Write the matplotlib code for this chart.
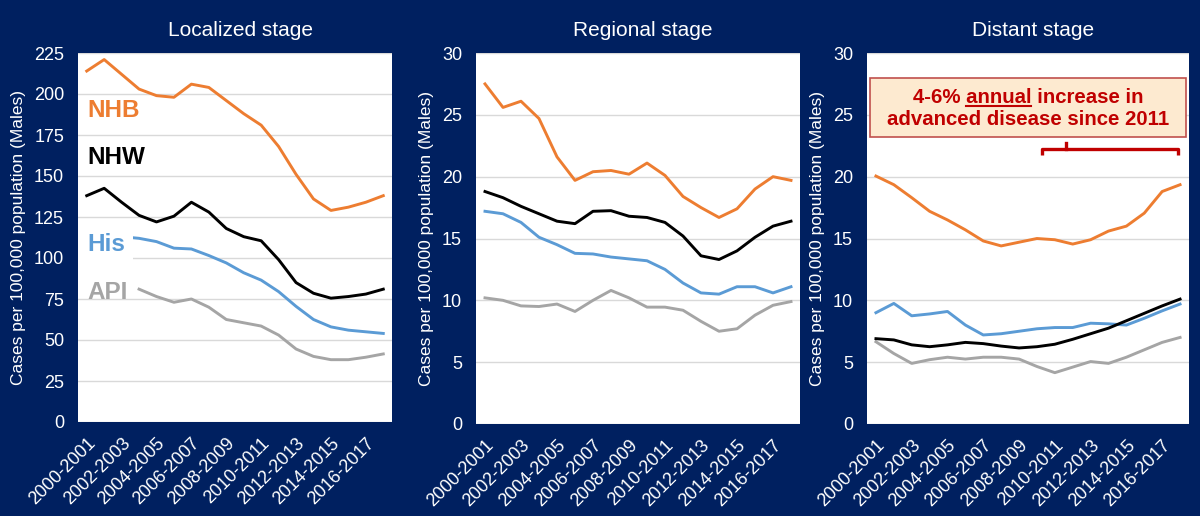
import numpy as np
import matplotlib
matplotlib.use('Agg')
import matplotlib.pyplot as plt
from matplotlib.lines import Line2D
from matplotlib.patches import Rectangle

plt.rcParams['font.family'] = ['Liberation Sans', 'DejaVu Sans']

# Категории: двухлетние интервалы 2000-2001 ... 2017-2018
periods = [f'{y}-{y + 1}' for y in range(2000, 2018)]
tick_every = 2

# Localized stage
loc_nhb = [214, 221, 212, 203, 199, 198, 206, 204, 196, 188, 181, 168, 151, 136, 129, 131, 134, 138]
loc_nhw = [138, 142.5, 134, 126, 122, 125.5, 134, 128, 118, 113, 110.5, 99, 85, 78.5, 75.5, 76.5, 78, 81]
loc_his = [None, None, 113, 112, 110, 106, 105.5, 101.5, 97, 91, 86.5, 79.5, 70.5, 62.5, 58, 56, 55, 54]
loc_api = [None, None, None, 81, 76.5, 73, 75, 70, 62.5, 60.5, 58.5, 53, 44.5, 40, 38, 38, 39.5, 41.5]

# Regional stage
reg_nhb = [27.5, 25.6, 26.1, 24.7, 21.6, 19.7, 20.4, 20.5, 20.2, 21.1, 20.1, 18.4, 17.5, 16.7, 17.4, 19.0, 20.0, 19.7]
reg_nhw = [18.8, 18.3, 17.6, 17.0, 16.4, 16.2, 17.2, 17.25, 16.8, 16.7, 16.3, 15.2, 13.6, 13.3, 14.0, 15.1, 16.0, 16.4]
reg_his = [17.2, 17.0, 16.3, 15.1, 14.5, 13.8, 13.75, 13.5, 13.35, 13.2, 12.5, 11.4, 10.6, 10.5, 11.1, 11.1, 10.6, 11.1]
reg_api = [10.2, 10.0, 9.55, 9.5, 9.7, 9.1, 10.0, 10.8, 10.2, 9.45, 9.45, 9.2, 8.3, 7.5, 7.7, 8.8, 9.6, 9.9]

# Distant stage
dis_nhb = [20.05, 19.35, 18.3, 17.2, 16.5, 15.7, 14.8, 14.4, 14.7, 15.0, 14.9, 14.55, 14.9, 15.6, 16.0, 17.05, 18.8, 19.35]
dis_nhw = [6.9, 6.8, 6.4, 6.25, 6.4, 6.6, 6.5, 6.3, 6.15, 6.25, 6.45, 6.85, 7.3, 7.75, 8.35, 8.95, 9.55, 10.1]
dis_his = [9.0, 9.75, 8.75, 8.9, 9.1, 8.0, 7.2, 7.3, 7.5, 7.7, 7.8, 7.8, 8.15, 8.1, 8.0, 8.55, 9.15, 9.7]
dis_api = [6.65, 5.7, 4.9, 5.2, 5.4, 5.25, 5.4, 5.4, 5.25, 4.65, 4.15, 4.6, 5.05, 4.9, 5.4, 6.0, 6.6, 7.0]

titles = ['Localized stage', 'Regional stage', 'Distant stage']
y_limits = [(0, 225, 25), (0, 30, 5), (0, 30, 5)]
ylabel_text = 'Cases per 100,000 population (Males)'

# Подписи групп на первой панели
group_names = ['NHB', 'NHW', 'His', 'API']
group_label_y = [190, 161, 108, 79]

colors = {'NHB': '#ED7D31', 'NHW': '#000000', 'His': '#5B9BD5', 'API': '#A5A5A5'}
bg = '#002060'

note_line1 = '4-6% annual increase in'
note_word = 'annual'
note_line2 = 'advanced disease since 2011'
note_color = '#C00000'

panels = [
    {'NHB': loc_nhb, 'NHW': loc_nhw, 'His': loc_his, 'API': loc_api},
    {'NHB': reg_nhb, 'NHW': reg_nhw, 'His': reg_his, 'API': reg_api},
    {'NHB': dis_nhb, 'NHW': dis_nhw, 'His': dis_his, 'API': dis_api},
]

W, H = 1200, 516
# прямоугольники областей построения в пикселях (left, top, right, bottom)
boxes_px = [(78, 53, 392, 422), (476, 53, 800, 424), (867, 53, 1189, 424)]

fig = plt.figure(figsize=(W / 100, H / 100), dpi=100, facecolor=bg)

axes = []
for i, (l, t, r, b) in enumerate(boxes_px):
    ax = fig.add_axes([l / W, 1 - b / H, (r - l) / W, (b - t) / H])
    ax.set_facecolor('white')
    x = np.arange(len(periods))
    for name in ['API', 'His', 'NHW', 'NHB']:
        vals = np.array([np.nan if v is None else v for v in panels[i][name]], dtype=float)
        ax.plot(x, vals, color=colors[name], lw=2.1, solid_joinstyle='round', zorder=3)
    lo, hi, step = y_limits[i]
    ax.set_ylim(lo, hi)
    ax.set_yticks(np.arange(lo, hi + step / 2, step))
    ax.set_xlim(-0.5, len(periods) - 0.5)
    ax.set_xticks(x[::tick_every])
    ax.set_xticklabels(periods[::tick_every], rotation=45, ha='right', rotation_mode='anchor')
    ax.grid(axis='y', color='#D9D9D9', lw=1)
    ax.set_axisbelow(True)
    for s in ax.spines.values():
        s.set_visible(False)
    ax.tick_params(axis='both', length=0, colors='white', labelsize=13)
    ax.tick_params(axis='y', pad=10)
    ax.tick_params(axis='x', pad=9)
    ax.set_ylabel(ylabel_text, color='white', fontsize=12.5, labelpad=6)
    cx = (l + r) / 2 + 5
    fig.text(cx / W, 1 - 30 / H, titles[i], color='white', fontsize=15,
             ha='center', va='center')
    axes.append(ax)

# подписи групп; у His белая подложка закрывает начало линии
ax0 = axes[0]
ax0.add_patch(Rectangle((-0.5, 99), 3.14, 19, fc='white', ec='none', zorder=4))
for name, yv in zip(group_names, group_label_y):
    ax0.text(0.05, yv, name, color=colors[name], fontsize=17.5, fontweight='bold',
             ha='left', va='center', zorder=5)

# аннотация на третьей панели
ax2 = axes[2]
ax2.add_patch(Rectangle((-0.33, 23.2), 17.68, 4.8, fc='#FDEAD0', ec='#C0504D',
                        lw=1.2, zorder=6, clip_on=False))
tx, ty1, ty2 = 8.5, 25.95, 24.2
fs_note = 14.7
t1 = ax2.text(tx, ty1, note_line1, color=note_color, fontsize=fs_note, fontweight='bold',
              ha='center', va='baseline', zorder=7)
ax2.text(tx, ty2, note_line2, color=note_color, fontsize=fs_note, fontweight='bold',
         ha='center', va='baseline', zorder=7)

# подчёркивание слова "annual"
fig.canvas.draw()
renderer = fig.canvas.get_renderer()
prop = t1.get_fontproperties()
full_w = renderer.get_text_width_height_descent(note_line1, prop, ismath=False)[0]
pre = note_line1.split(note_word)[0]
pre_w = renderer.get_text_width_height_descent(pre, prop, ismath=False)[0]
word_w = renderer.get_text_width_height_descent(pre + note_word, prop, ismath=False)[0]
x0_px, y0_px = ax2.transData.transform((tx, ty1))
ux0 = x0_px - full_w / 2 + pre_w
ux1 = x0_px - full_w / 2 + word_w
uy = y0_px - 3
fig.add_artist(Line2D([ux0 / W, ux1 / W], [uy / H, uy / H], color=note_color, lw=1.5, zorder=8))

# скобка с 2011 года
bx0, bx1, bmid = 9.3, 16.9, 10.65
by, bdrop, brise = 22.25, 21.75, 22.7
ax2.plot([bx0, bx0, bx1, bx1], [bdrop, by, by, bdrop], color=note_color, lw=2.4, zorder=6,
         solid_capstyle='butt')
ax2.plot([bmid, bmid], [by, brise], color=note_color, lw=2.4, zorder=6)

fig.savefig('out.png', dpi=100, facecolor=bg)
